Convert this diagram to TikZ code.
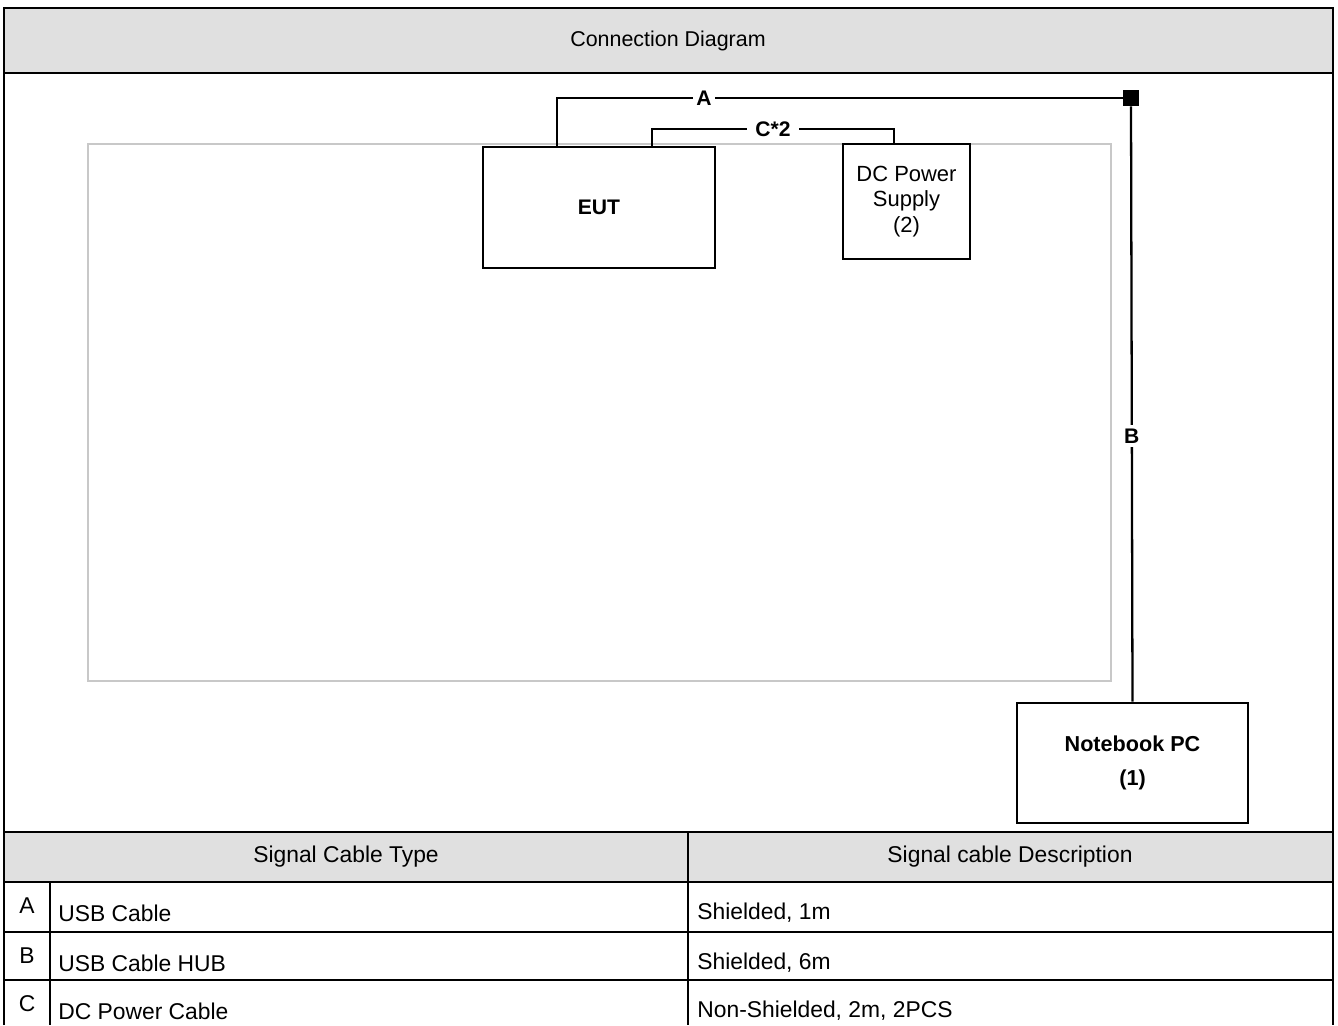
\documentclass[tikz,border=0pt]{standalone}
\usepackage{fontspec}
\setmainfont{Liberation Sans}
\usetikzlibrary{positioning}
\definecolor{headgray}{RGB}{224,224,224}
\definecolor{benchgray}{RGB}{200,200,200}
\begin{document}
\begin{tikzpicture}[x=0.02cm, y=-0.02cm,
    frame/.style={line width=1.6pt},
    grid/.style={line width=1.3pt},
    device/.style={draw, fill=white, line width=1.5pt, align=center, inner sep=0pt},
    cable/.style={line width=1.3pt},
    lbl/.style={fill=white, inner sep=2pt, font=\fontsize{12}{14}\selectfont\bfseries},
    cell/.style={font=\fontsize{13}{15}\selectfont, inner sep=0pt}]
    \useasboundingbox (0,0) rectangle (1338,1025);

    % Gray bands
    \fill[headgray] (4,8) rectangle (1333,73);
    \fill[headgray] (4,832) rectangle (1333,882);

    % Outer frame and table rules
    \draw[frame] (4,1025) -- (4,8) -- (1333,8) -- (1333,1025);
    \draw[frame] (4,73) -- (1333,73);
    \draw[grid] (4,832) -- (1333,832);
    \draw[grid] (4,882) -- (1333,882);
    \draw[grid] (4,932) -- (1333,932);
    \draw[grid] (4,980) -- (1333,980);
    \draw[grid] (688,832) -- (688,1025);
    \draw[grid] (50,882) -- (50,1025);

    % Title
    \node[font=\fontsize{12.2}{15}\selectfont] (title) at (668,41) {Connection Diagram};

    % Table area
    \draw[benchgray, line width=0.6pt] (88,144) rectangle (1111,681);

    % Devices
    \node[device, minimum width=4.64cm, minimum height=2.42cm,
          font=\fontsize{12}{14}\selectfont\bfseries] (eut) at (599,207.5) {EUT};
    \node[device, minimum width=2.54cm, minimum height=2.3cm,
          font=\fontsize{12.5}{14.5}\selectfont] (dcps) at (906.5,201.5) {DC Power\\Supply\\(2)};
    \node[device, minimum width=4.62cm, minimum height=2.4cm,
          font=\fontsize{12.3}{19}\selectfont\bfseries] (nbpc) at (1132.5,763) {Notebook PC\\(1)};
    \node[fill=black, minimum size=0.32cm, inner sep=0pt] (hub) at (1131,98) {};

    % Cables
    \coordinate (aup) at (557,98);
    \coordinate (cl) at (652,129);
    \coordinate (cr) at (894,129);
    \draw[cable] (eut.north -| aup) |- node[lbl, pos=0.63] {A} (hub.west);
    \draw[cable] (hub.south) -- node[lbl, pos=0.554] {B} (nbpc.north);
    \draw[cable] (eut.north -| cl) -- (cl) -- node[lbl, inner xsep=5pt] {C*2} (cr) -- (cr |- dcps.north);

    % Cable table
    \node[cell] (typehead) at (346,857) {Signal Cable Type};
    \node[cell] (deschead) at (1010,857) {Signal cable Description};
    \foreach \top/\tag/\kind/\desc [count=\i] in {882/A/USB Cable/{Shielded, 1m},
        932/B/USB Cable HUB/{Shielded, 6m}, 980/C/DC Power Cable/{Non-Shielded, 2m, 2PCS}} {
        \node[cell] (tag\i) at (27,{\top+24}) {\tag};
        \node[cell, anchor=west] (kind\i) at (58,{\top+31}) {\kind};
        \node[cell, anchor=west] (desc\i) at (697,{\top+31}) {\desc};
    }
\end{tikzpicture}
\end{document}
